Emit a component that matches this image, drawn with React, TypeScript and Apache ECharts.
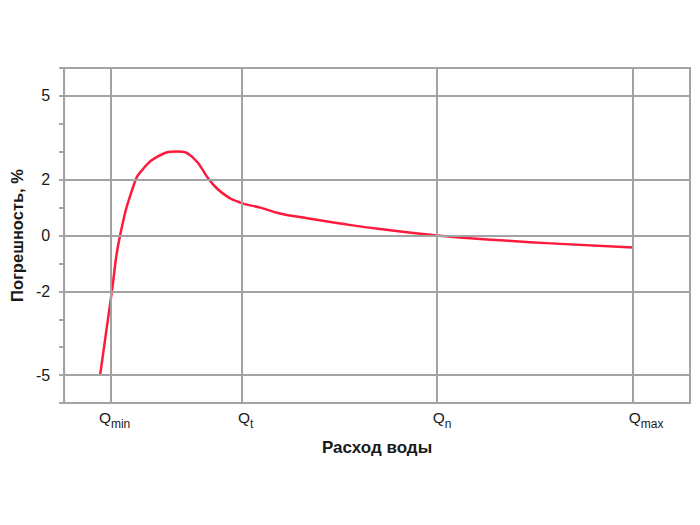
import React, { useEffect, useRef } from 'react';
import * as echarts from 'echarts';

// Flow (arbitrary linear units along the x axis) and error, %
const flowX = [1.84, 2.44, 2.86, 3.63, 4.0, 4.7, 5.78, 6.59, 7.46, 8.13, 9.0, 10.02, 11.04, 12.06, 14.11, 16.15, 19.07, 22.29, 25.36, 29.09];
const errorY = [-5, -2, 0, 1.95, 2.35, 2.8, 3.01, 2.79, 1.96, 1.5, 1.18, 1.0, 0.79, 0.66, 0.43, 0.23, 0, -0.17, -0.3, -0.43];

const flowTickValues = [2.4, 9.1, 19.07, 29.09];
const flowTickSubs = ['min', 't', 'n', 'max'];
const errorLabelValues = [-5, -2, 0, 2, 5];

const FONT = '"Liberation Sans", Arial, sans-serif';
const GRID_COLOR = '#a3a3a3';

export default function App() {
  const ref = useRef<HTMLDivElement>(null);
  useEffect(() => {
    if (!ref.current) return;
    const chart = echarts.init(ref.current, null, { renderer: 'svg' });
    const data = flowX.map((x, i) => [x, errorY[i]]);
    chart.setOption({
      animation: false,
      backgroundColor: '#ffffff',
      textStyle: { fontFamily: FONT },
      grid: {
        left: 64,
        right: 10,
        top: 68,
        bottom: 122,
        show: true,
        borderColor: GRID_COLOR,
        borderWidth: 2,
        backgroundColor: 'transparent',
      },
      xAxis: {
        type: 'value',
        min: 0,
        max: 32,
        name: 'Расход воды',
        nameLocation: 'middle',
        nameGap: 36,
        nameTextStyle: { fontFamily: FONT, fontSize: 17, fontWeight: 'bold', color: '#1a1a1a' },
        axisLine: { show: true, lineStyle: { color: GRID_COLOR, width: 2 } },
        axisTick: { show: true, customValues: flowTickValues, length: 4, lineStyle: { color: GRID_COLOR, width: 2 } },
        splitLine: { show: false },
        axisLabel: {
          customValues: flowTickValues,
          margin: 11,
          formatter: (v: number) => {
            const i = flowTickValues.findIndex((t) => Math.abs(t - v) < 1e-6);
            if (i < 0) return '';
            return `{sp${i}|}{q|Q}{s|${flowTickSubs[i]}}`;
          },
          rich: {
            q: { fontFamily: FONT, fontSize: 15.5, color: '#1a1a1a', verticalAlign: 'bottom', lineHeight: 16, padding: [0, 0, 5, 0] },
            s: { fontFamily: FONT, fontSize: 12, color: '#1a1a1a', verticalAlign: 'bottom', lineHeight: 13 },
            sp0: { width: 7 },
            sp1: { width: 7 },
            sp2: { width: 10 },
            sp3: { width: 26 },
          },
        },
      },
      yAxis: {
        type: 'value',
        min: -6,
        max: 6,
        interval: 1,
        name: 'Погрешность, %',
        nameLocation: 'middle',
        nameGap: 33,
        nameTextStyle: { fontFamily: FONT, fontSize: 16.5, fontWeight: 'bold', color: '#1a1a1a' },
        axisLine: { show: true, lineStyle: { color: GRID_COLOR, width: 2 } },
        axisTick: { show: true, length: 5, lineStyle: { color: GRID_COLOR, width: 2 } },
        splitLine: { show: false },
        axisLabel: {
          customValues: errorLabelValues,
          margin: 14,
          fontFamily: FONT,
          fontSize: 16,
          color: '#1a1a1a',
        },
      },
      series: [
        {
          type: 'line',
          data,
          smooth: 0.5,
          showSymbol: false,
          lineStyle: { color: '#ff1a3c', width: 2.5 },
          z: 3,
          markLine: {
            silent: true,
            symbol: 'none',
            label: { show: false },
            lineStyle: { color: GRID_COLOR, width: 2, type: 'solid' },
            data: [
              ...errorLabelValues.map((v) => ({ yAxis: v })),
              ...flowTickValues.map((v) => ({ xAxis: v })),
            ],
          },
        },
      ],
    });
    return () => chart.dispose();
  }, []);
  return <div ref={ref} style={{ position: 'absolute', left: 0, top: 0, width: 700, height: 525 }} />;
}
